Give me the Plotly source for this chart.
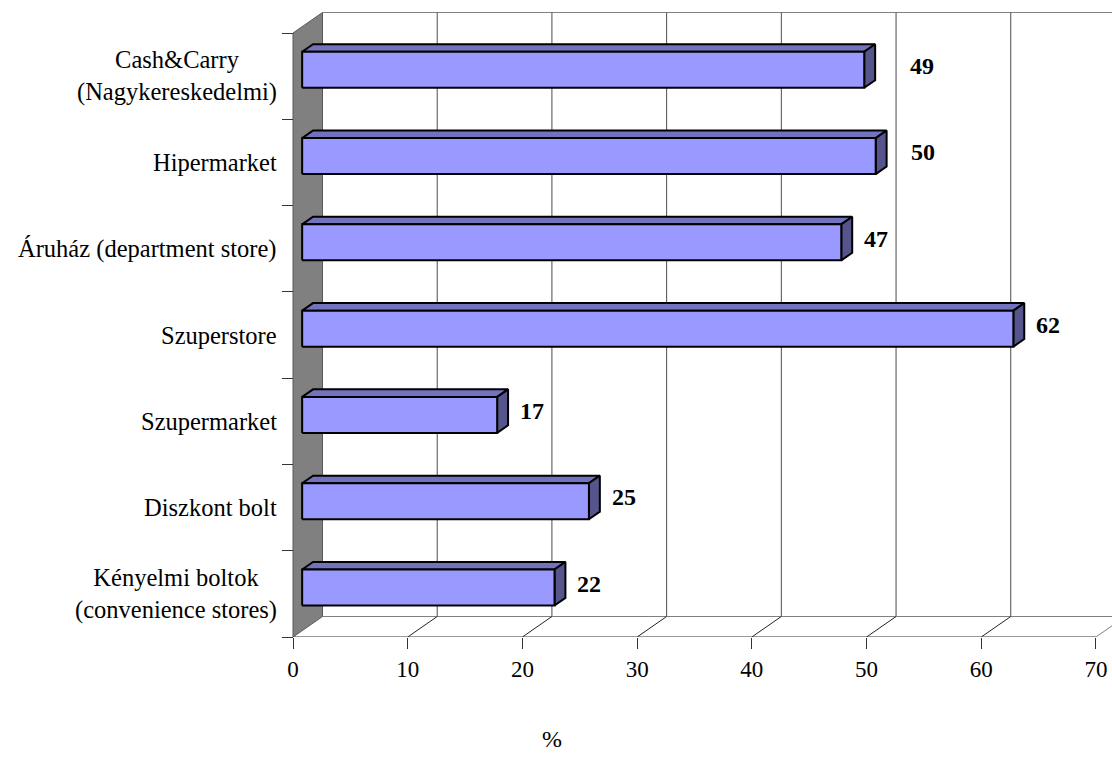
import plotly.graph_objects as go

# Store formats and the share of respondents (%)
categories = [
    "Kényelmi boltok<br>(convenience stores)",
    "Diszkont bolt",
    "Szupermarket",
    "Szuperstore",
    "Áruház (department store)",
    "Hipermarket",
    "Cash&Carry<br>(Nagykereskedelmi)",
]
values = [22, 25, 17, 62, 47, 50, 49]
x_ticks = [0, 10, 20, 30, 40, 50, 60, 70]
x_title = "%"

# ---- pseudo-3D geometry (pixel based, converted to axis units) ----
W, H = 1112, 779
PLOT_L, PLOT_T, PLOT_B = 286, 0, 637          # plot-area edges in px
ORIGIN_X = 293                                # px of value 0 on the front plane
PX_PER_X = 11.471                             # px per 1 %
N = len(categories)
PX_PER_Y = (PLOT_B - 33) / N                  # px per category band

x_range = [(PLOT_L - ORIGIN_X) / PX_PER_X, (W - ORIGIN_X) / PX_PER_X]
y_range = [0, (PLOT_B - PLOT_T) / PX_PER_Y]

DX = 29.5 / PX_PER_X        # depth offset, x units
DY = 20.5 / PX_PER_Y        # depth offset, y units
F1, F2 = 0.31, 0.68         # front / back depth fraction of the bars
HALF = 18 / PX_PER_Y        # half bar height
X_MAX = x_ticks[-1]

FONT = "Liberation Serif, Times New Roman, serif"
GRID = "#4d4d4d"
WALL_EDGE = "#808080"

fig = go.Figure()


def seg_trace(xs, ys, color, width=1):
    fig.add_trace(go.Scatter(x=xs, y=ys, mode="lines",
                             line=dict(color=color, width=width),
                             hoverinfo="skip", showlegend=False))


def poly_trace(polys, fill, edge="black", width=2):
    xs, ys = [], []
    for p in polys:
        for (a, b) in p + [p[0]]:
            xs.append(a)
            ys.append(b)
        xs.append(None)
        ys.append(None)
    fig.add_trace(go.Scatter(x=xs, y=ys, mode="lines", fill="toself",
                             fillcolor=fill,
                             line=dict(color=edge, width=width),
                             hoverinfo="skip", showlegend=False))


# back wall: top edge and vertical gridlines
far_x = x_range[1] + DX
seg_trace([DX, far_x], [N + DY, N + DY], WALL_EDGE)
gx, gy = [], []
for t in x_ticks[1:]:
    gx += [t + DX, t + DX, None]
    gy += [DY, N + DY, None]
seg_trace(gx, gy, GRID)

# floor: back edge and diagonal gridlines
seg_trace([DX, far_x], [DY, DY], WALL_EDGE)
dx_, dy_ = [], []
for t in x_ticks[1:-1]:
    dx_ += [t, t + DX, None]
    dy_ += [0, DY, None]
seg_trace(dx_, dy_, "#222222")
seg_trace([X_MAX, X_MAX + DX], [0, DY], WALL_EDGE)

# left wall
poly_trace([[(0, 0), (DX, DY), (DX, N + DY), (0, N)]],
           fill="#808080", edge="#5a5a5a", width=1)

# front value axis line
seg_trace([0, X_MAX], [0, 0], "#333333")

# bars: front face, top face and right side
x0 = F1 * DX
dxb = (F2 - F1) * DX
dyb = (F2 - F1) * DY
fronts, tops, sides = [], [], []
for i, v in enumerate(values):
    yc = i + 0.5 + F1 * DY
    lo, hi = yc - HALF, yc + HALF
    fronts.append([(x0, lo), (x0 + v, lo), (x0 + v, hi), (x0, hi)])
    tops.append([(x0, hi), (x0 + v, hi), (x0 + v + dxb, hi + dyb), (x0 + dxb, hi + dyb)])
    sides.append([(x0 + v, lo), (x0 + v + dxb, lo + dyb), (x0 + v + dxb, hi + dyb), (x0 + v, hi)])
poly_trace(tops, fill="#7373BD")
poly_trace(sides, fill="#55558C")
poly_trace(fronts, fill="#9999FF")

# value labels (the top two were aligned by hand in the original layout)
label_nudge = {6: 23, 5: 12}
for i, v in enumerate(values):
    fig.add_annotation(x=x0 + v + dxb, y=i + 0.5 + F1 * DY + dyb / 2,
                       xref="x", yref="y", text=f"<b>{v}</b>",
                       showarrow=False, xanchor="left", yanchor="middle",
                       xshift=10 + label_nudge.get(i, 0),
                       font=dict(family=FONT, size=24, color="black"))

# category labels, lines centred within each label block
for i, c in enumerate(categories):
    fig.add_annotation(x=0, y=i + 0.5, xref="x", yref="y", text=c,
                       showarrow=False, xanchor="right", yanchor="middle",
                       align="center", xshift=-14,
                       font=dict(family=FONT, size=24.5, color="black"))

# value axis title, centred under the 0-40 span as in the original
fig.add_annotation(x=(552 - PLOT_L) / (W - PLOT_L), y=-(739 - PLOT_B) / (PLOT_B - PLOT_T),
                   xref="paper", yref="paper", text=x_title, showarrow=False,
                   xanchor="center", yanchor="middle",
                   font=dict(family=FONT, size=24, color="black"))

fig.update_layout(
    width=W, height=H,
    margin=dict(l=PLOT_L, r=0, t=PLOT_T, b=H - PLOT_B, autoexpand=False),
    paper_bgcolor="white", plot_bgcolor="white",
    showlegend=False,
    font=dict(family=FONT, size=22, color="black"),
    xaxis=dict(range=x_range, tickvals=x_ticks, ticks="outside", ticklen=11,
               tickcolor="#333333", tickwidth=1, showline=False,
               showgrid=False, zeroline=False,
               tickfont=dict(family=FONT, size=23, color="black")),
    yaxis=dict(range=y_range, tickvals=list(range(N + 1)),
               ticktext=[""] * (N + 1), ticks="outside", ticklen=11,
               tickcolor="#333333", tickwidth=1, showline=False,
               showgrid=False, zeroline=False, anchor="free",
               position=(ORIGIN_X - PLOT_L) / (W - PLOT_L)),
)

fig.write_html("out.html")
